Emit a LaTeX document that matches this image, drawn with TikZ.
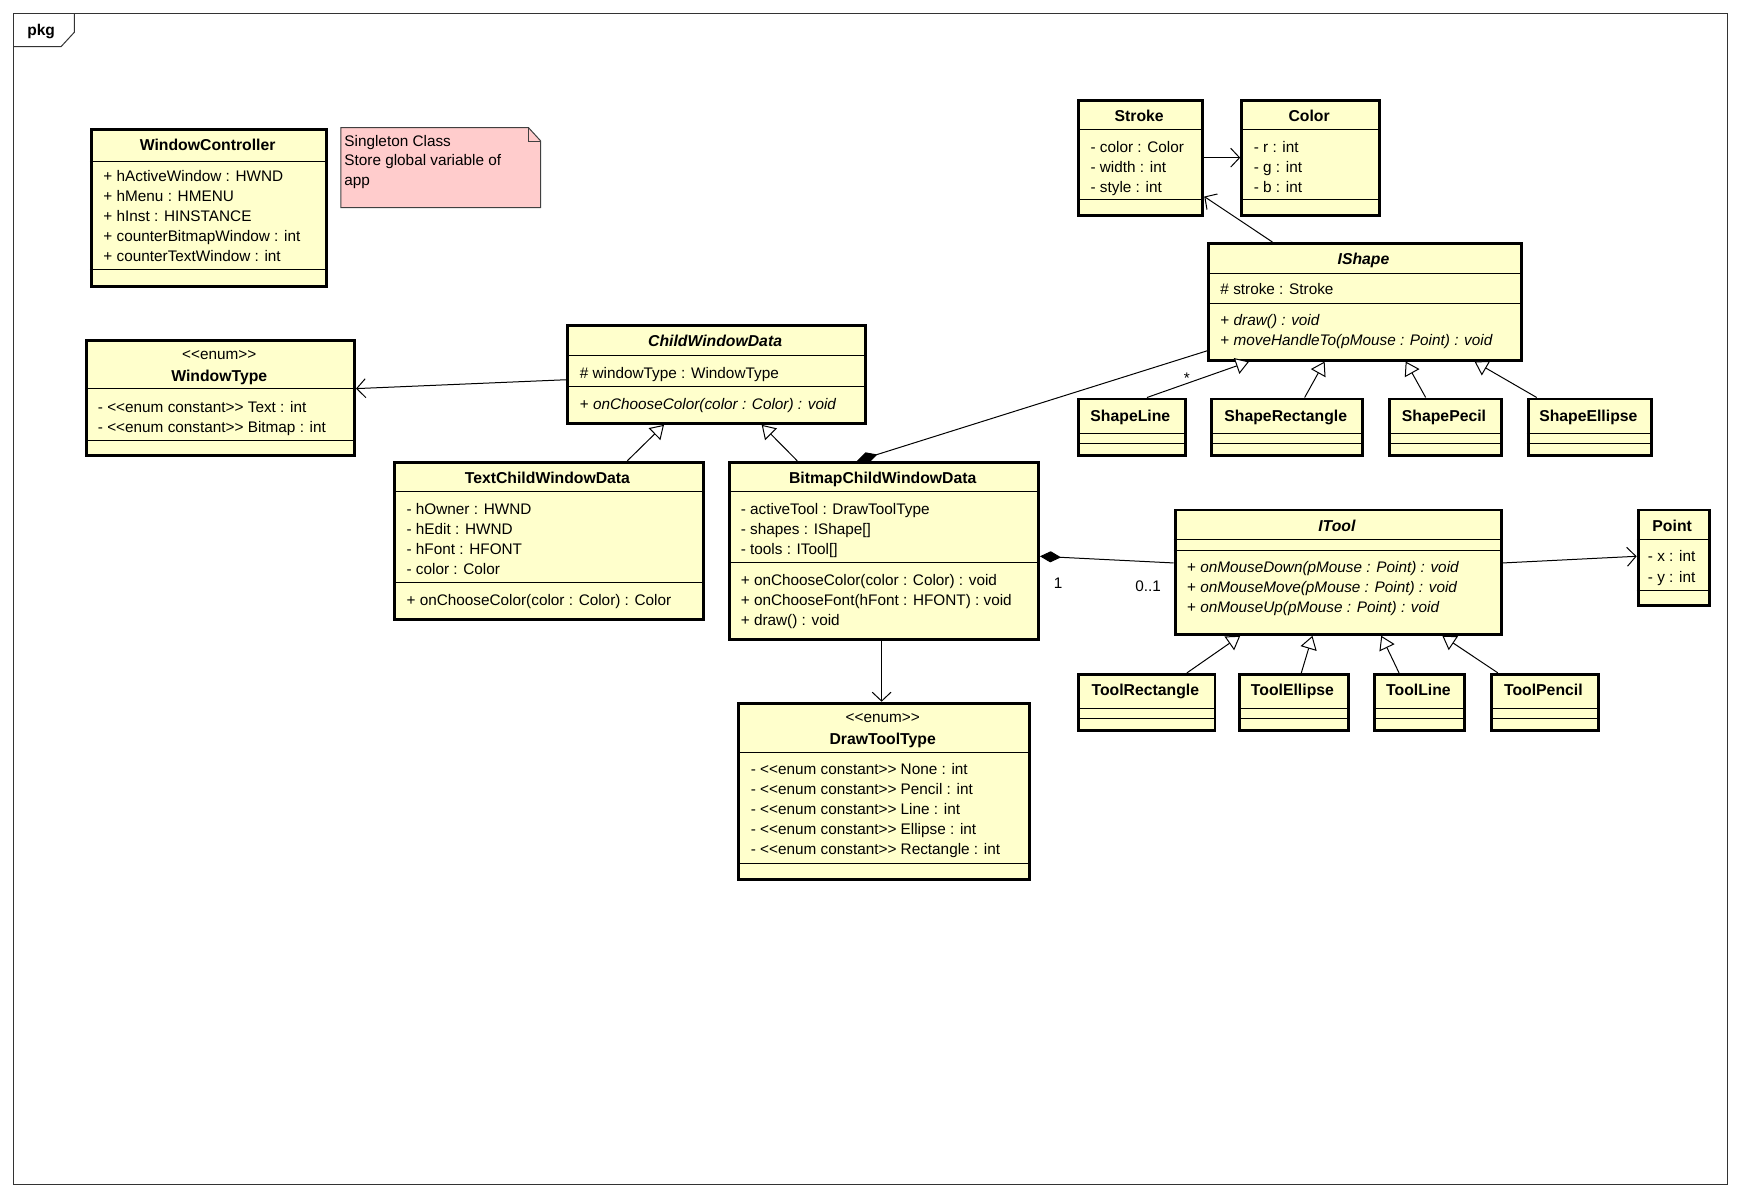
\documentclass[tikz,border=0pt]{standalone}
\usepackage{fontspec}
\setmainfont{Liberation Sans}
\usetikzlibrary{arrows.meta}
\definecolor{clsfill}{RGB}{255,255,204}
\definecolor{notefill}{RGB}{255,204,204}
\newcommand\llg{<\kern0pt<}
\newcommand\rrg{>\kern0pt>}
\newcommand\umlbox[5]{\node[clsbox, minimum width=#4pt, minimum height=#5pt] (#1) at (#2,#3) {};}
\newcommand\umlrule[3]{\draw[sep] (#1,#3) -- (#2,#3);}
\newcommand\umltxt[4]{\node[txt] (#1) at (#2,#3) {#4};}
\newcommand\umlttl[4]{\node[ttl] (#1) at (#2,#3) {#4};}
\begin{document}
\begin{tikzpicture}[x=1pt,y=-1pt,
  clsbox/.style={draw=black, line width=2.6pt, fill=clsfill, rectangle, inner sep=0pt, anchor=north west},
  sep/.style={line width=0.9pt},
  txt/.style={inner sep=0pt, anchor=west, text height=12pt, text depth=1pt, font=\fontsize{13.8}{15}\selectfont},
  ttl/.style={inner sep=0pt, anchor=center, text height=12pt, text depth=1pt, font=\fontsize{14.2}{15}\selectfont\bfseries},
  lbl/.style={inner sep=0pt, anchor=center, font=\fontsize{13.8}{15}\selectfont},
  conn/.style={line width=0.9pt},
  assoc/.style={conn, -{Straight Barb[length=8pt,width=17pt,line width=0.9pt]}},
  gen/.style={conn, -{Triangle[open, length=12pt, width=15pt, line width=0.9pt, fill=white]}},
  comp/.style={conn, {Diamond[length=19pt, width=10pt]}-}
]
\useasboundingbox (0,0) rectangle (1568,1079);
% frame
\draw[line width=0.9pt, draw=black!80] (12,12) rectangle (1556,1067);
\draw[line width=0.9pt, draw=black!80] (12,42) -- (55,42) -- (67,29) -- (67,12);
\node[font=\fontsize{14}{15}\selectfont\bfseries, inner sep=0pt] (pkg) at (37,28) {pkg};

% note
\draw[line width=0.9pt, draw=black!75, fill=notefill] (307,115) -- (476,115) -- (487,127) -- (487,187) -- (307,187) -- cycle;
\draw[line width=0.9pt, draw=black!75] (476,115) -- (476,127) -- (487,127);
\umltxt{n1}{310}{126}{Singleton Class}
\umltxt{n2}{310}{144}{Store global variable of}
\umltxt{n3}{310}{162}{app}

% WindowController
\umlbox{wc}{81}{115}{212}{142}
\umlrule{81}{293}{145}\umlrule{81}{293}{243}
\umlttl{wct}{187}{130}{WindowController}
\umltxt{wc1}{93}{158}{+ hActiveWindow : HWND}
\umltxt{wc2}{93}{176}{+ hMenu : HMENU}
\umltxt{wc3}{93}{194}{+ hInst : HINSTANCE}
\umltxt{wc4}{93}{212}{+ counterBitmapWindow : int}
\umltxt{wc5}{93}{230}{+ counterTextWindow : int}

% WindowType
\umlbox{wt}{77}{305}{241}{104}
\umlrule{77}{318}{350}\umlrule{77}{318}{397}
\node[lbl] (wts) at (197.5,320) {\llg enum\rrg};
\umlttl{wtt}{197.5}{338}{WindowType}
\umltxt{wt1}{88}{366}{- \llg enum constant\rrg{} Text : int}
\umltxt{wt2}{88}{384}{- \llg enum constant\rrg{} Bitmap : int}

% ChildWindowData
\umlbox{cwd}{510}{292}{268}{88}
\umlrule{510}{778}{320}\umlrule{510}{778}{348}
\umlttl{cwdt}{644}{307}{\itshape ChildWindowData}
\umltxt{cwd1}{522}{335}{\# windowType : WindowType}
\umltxt{cwd2}{522}{363}{+ \textit{onChooseColor(color : Color) : void}}

% TextChildWindowData
\umlbox{tcwd}{354}{415}{278}{142}
\umlrule{354}{632}{443}\umlrule{354}{632}{525}
\umlttl{tcwdt}{493}{430}{TextChildWindowData}
\umltxt{tc1}{366}{458}{- hOwner : HWND}
\umltxt{tc2}{366}{476}{- hEdit : HWND}
\umltxt{tc3}{366}{494}{- hFont : HFONT}
\umltxt{tc4}{366}{512}{- color : Color}
\umltxt{tc5}{366}{540}{+ onChooseColor(color : Color) : Color}

% BitmapChildWindowData
\umlbox{bcwd}{656}{415}{278}{160}
\umlrule{656}{934}{443}\umlrule{656}{934}{507}
\umlttl{bcwdt}{795}{430}{BitmapChildWindowData}
\umltxt{bc1}{667}{458}{- activeTool : DrawToolType}
\umltxt{bc2}{667}{476}{- shapes : IShape[]}
\umltxt{bc3}{667}{494}{- tools : ITool[]}
\umltxt{bc4}{667}{522}{+ onChooseColor(color : Color) : void}
\umltxt{bc5}{667}{540}{+ onChooseFont(hFont : HFONT) : void}
\umltxt{bc6}{667}{558}{+ draw() : void}

% DrawToolType
\umlbox{dtt}{664}{632}{262}{159}
\umlrule{664}{926}{678}\umlrule{664}{926}{778}
\node[lbl] (dtts) at (795,647) {\llg enum\rrg};
\umlttl{dttt}{795}{665}{DrawToolType}
\umltxt{dt1}{676}{692}{- \llg enum constant\rrg{} None : int}
\umltxt{dt2}{676}{710}{- \llg enum constant\rrg{} Pencil : int}
\umltxt{dt3}{676}{728}{- \llg enum constant\rrg{} Line : int}
\umltxt{dt4}{676}{746}{- \llg enum constant\rrg{} Ellipse : int}
\umltxt{dt5}{676}{764}{- \llg enum constant\rrg{} Rectangle : int}

% Stroke
\umlbox{stroke}{970}{89}{112}{104}
\umlrule{970}{1082}{117}\umlrule{970}{1082}{180}
\umlttl{strt}{1026}{104}{Stroke}
\umltxt{st1}{982}{132}{- color : Color}
\umltxt{st2}{982}{150}{- width : int}
\umltxt{st3}{982}{168}{- style : int}

% Color
\umlbox{color}{1117}{89}{124}{104}
\umlrule{1117}{1241}{117}\umlrule{1117}{1241}{180}
\umlttl{colt}{1179}{104}{Color}
\umltxt{co1}{1129}{132}{- r : int}
\umltxt{co2}{1129}{150}{- g : int}
\umltxt{co3}{1129}{168}{- b : int}

% IShape
\umlbox{ish}{1087}{218}{282}{105}
\umlrule{1087}{1369}{246}\umlrule{1087}{1369}{273}
\umlttl{isht}{1228}{233}{\itshape IShape}
\umltxt{is1}{1099}{260}{\# stroke : Stroke}
\umltxt{is2}{1099}{288}{+ \textit{draw() : void}}
\umltxt{is3}{1099}{306}{+ \textit{moveHandleTo(pMouse : Point) : void}}

% Shapes
\umlbox{sl}{970}{358}{96}{51}
\umlrule{970}{1066}{390}\umlrule{970}{1066}{399}
\umlttl{slt}{1018}{374}{ShapeLine}
\umlbox{sr}{1090}{358}{136}{51}
\umlrule{1090}{1226}{390}\umlrule{1090}{1226}{399}
\umlttl{srt}{1158}{374}{ShapeRectangle}
\umlbox{sp}{1250}{358}{101}{51}
\umlrule{1250}{1351}{390}\umlrule{1250}{1351}{399}
\umlttl{spt}{1300.5}{374}{ShapePecil}
\umlbox{se}{1375}{358}{111}{51}
\umlrule{1375}{1486}{390}\umlrule{1375}{1486}{399}
\umlttl{set}{1430.5}{374}{ShapeEllipse}

% ITool
\umlbox{itool}{1057}{458}{294}{112}
\umlrule{1057}{1351}{486}\umlrule{1057}{1351}{496}
\umlttl{itt}{1204}{473}{\itshape ITool}
\umltxt{it1}{1069}{510}{+ \textit{onMouseDown(pMouse : Point) : void}}
\umltxt{it2}{1069}{528}{+ \textit{onMouseMove(pMouse : Point) : void}}
\umltxt{it3}{1069}{546}{+ \textit{onMouseUp(pMouse : Point) : void}}

% Point
\umlbox{pt}{1474}{458}{64}{86}
\umlrule{1474}{1538}{486}\umlrule{1474}{1538}{532}
\umlttl{ptt}{1506}{473}{Point}
\umltxt{pt1}{1484}{500}{- x : int}
\umltxt{pt2}{1484}{519}{- y : int}

% Tools
\umlbox{tr}{970}{606}{123}{51}
\umlrule{970}{1093}{638}\umlrule{970}{1093}{647}
\umlttl{trt}{1031.5}{621}{ToolRectangle}
\umlbox{te}{1115}{606}{98}{51}
\umlrule{1115}{1213}{638}\umlrule{1115}{1213}{647}
\umlttl{tet}{1164}{621}{ToolEllipse}
\umlbox{tl}{1237}{606}{81}{51}
\umlrule{1237}{1318}{638}\umlrule{1237}{1318}{647}
\umlttl{tlt}{1277.5}{621}{ToolLine}
\umlbox{tp}{1342}{606}{96}{51}
\umlrule{1342}{1438}{638}\umlrule{1342}{1438}{647}
\umlttl{tpt}{1390}{621}{ToolPencil}

% connectors
\draw[assoc] ([yshift=-50pt]cwd.north west) -- ([yshift=-45pt]wt.north east);
\draw[gen] ([xshift=211pt]tcwd.north west) -- ([xshift=88pt]cwd.south west);
\draw[gen] ([xshift=62pt]bcwd.north west) -- ([xshift=176pt]cwd.south west);
\draw[comp] ([xshift=116pt]bcwd.north west) -- ([yshift=-98pt]ish.north west);
\draw[comp] ([yshift=-86pt]bcwd.north east) -- ([yshift=-49pt]itool.north west);
\draw[assoc] ([xshift=138pt]bcwd.south west) -- ([xshift=130pt]dtt.north west);
\draw[assoc] ([yshift=-53pt]stroke.north east) -- ([yshift=-53pt]color.north west);
\draw[assoc] ([xshift=59pt]ish.north west) -- ([yshift=-88pt]stroke.north east);
\draw[gen] ([xshift=63pt]sl.north west) -- ([xshift=38pt]ish.south west);
\draw[gen] ([xshift=85pt]sr.north west) -- ([xshift=106pt]ish.south west);
\draw[gen] ([xshift=34pt]sp.north west) -- ([xshift=179pt]ish.south west);
\draw[gen] ([xshift=9pt]se.north west) -- ([xshift=241pt]ish.south west);
\draw[assoc] ([yshift=-49pt]itool.north east) -- ([yshift=-43pt]pt.north west);
\draw[gen] ([xshift=99pt]tr.north west) -- ([xshift=60pt]itool.south west);
\draw[gen] ([xshift=57pt]te.north west) -- ([xshift=125pt]itool.south west);
\draw[gen] ([xshift=23pt]tl.north west) -- ([xshift=187pt]itool.south west);
\draw[gen] ([xshift=7pt]tp.north west) -- ([xshift=242pt]itool.south west);

% multiplicities
\node[lbl] (mstar) at (1069,341) {*};
\node[lbl] (mone) at (953,525) {1};
\node[lbl] (mzo) at (1034,528) {0..1};
\end{tikzpicture}
\end{document}
